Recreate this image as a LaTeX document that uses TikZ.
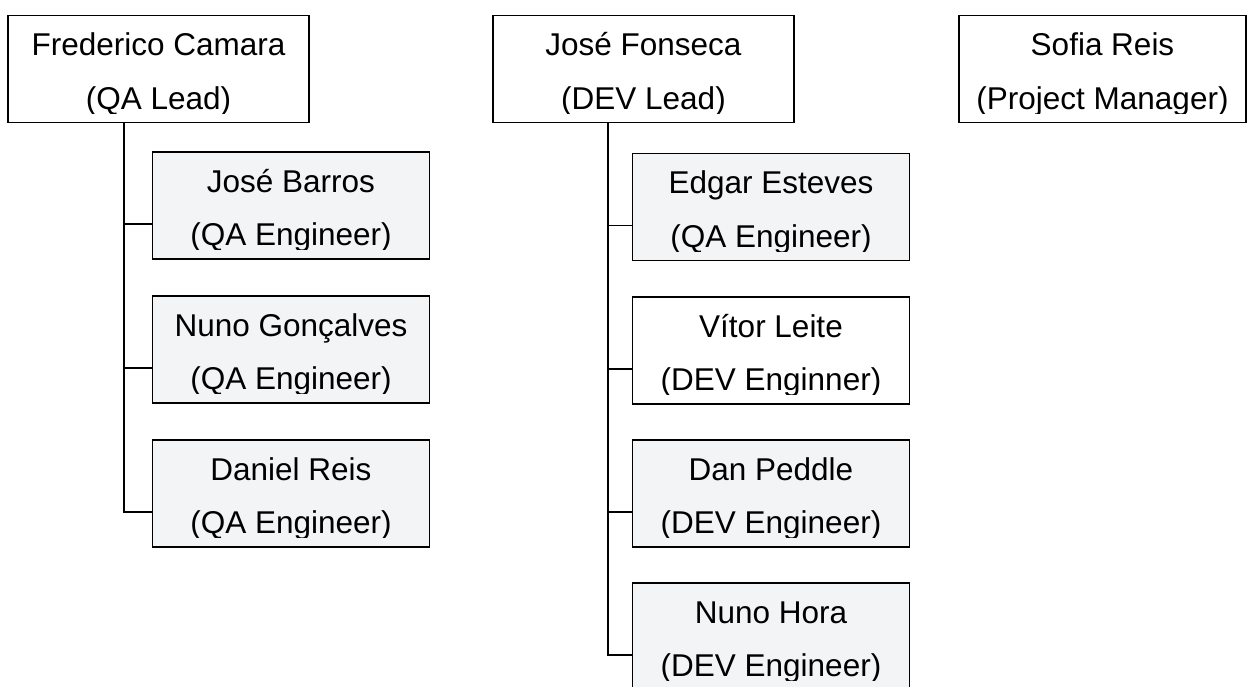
\documentclass[tikz,border=0pt]{standalone}
\usepackage{fontspec}
\setmainfont{Liberation Sans}

\definecolor{staffgray}{RGB}{243,244,246}

\tikzset{
  person/.style={draw, line width=1.7pt, fill=white, minimum width=301pt, minimum height=107pt, inner sep=0pt},
  staff/.style={person, minimum width=277pt, fill=staffgray},
  nametext/.style={anchor=base, inner sep=0pt, font=\fontsize{31.5}{53}\selectfont},
  tie/.style={line width=1.7pt}
}

% two text lines, cut a little above the lower edge
\newcommand{\personlabel}[3]{%
  \begin{scope}
    \clip ([xshift=1pt,yshift=-1pt]#1.north west) rectangle ([xshift=-1pt,yshift=10pt]#1.south east);
    \node[nametext] (#1-a) at ([yshift=-41pt]#1.north) {#2};
    \node[nametext] (#1-b) at ([yshift=-94.5pt]#1.north) {#3};
  \end{scope}}

\begin{document}
\begin{tikzpicture}[x=1pt, y=-1pt]
\useasboundingbox (0,0) rectangle (1247,686);

% leads
\node[person] (camara) at (158.5, 69) {};
\node[person] (fonseca) at (643.5, 69) {};
\node[person, minimum width=287pt] (sofia) at (1102.5, 69) {};

% QA team
\node[staff] (barros) at (291, 205.5) {};
\node[staff] (goncalves) at (291, 349.5) {};
\node[staff] (dreis) at (291, 493.5) {};

% DEV team
\node[staff] (esteves) at (771, 207) {};
\node[staff, fill=white] (leite) at (771, 350.5) {};
\node[staff] (peddle) at (771, 493.5) {};
\node[staff] (hora) at (771, 636.5) {};

\personlabel{camara}{Frederico Camara}{(QA Lead)}
\personlabel{fonseca}{José Fonseca}{(DEV Lead)}
\personlabel{sofia}{Sofia Reis}{(Project Manager)}
\personlabel{barros}{José Barros}{(QA Engineer)}
\personlabel{goncalves}{Nuno Gonçalves}{(QA Engineer)}
\personlabel{dreis}{Daniel Reis}{(QA Engineer)}
\personlabel{esteves}{Edgar Esteves}{(QA Engineer)}
\personlabel{leite}{Vítor Leite}{(DEV Enginner)}
\personlabel{peddle}{Dan Peddle}{(DEV Engineer)}
\personlabel{hora}{Nuno Hora}{(DEV Engineer)}

% tree lines
\coordinate (qatrunk) at ([xshift=117pt]camara.south west);
\coordinate (devtrunk) at ([xshift=116pt]fonseca.south west);
\foreach \n in {barros, goncalves, dreis, esteves, leite, peddle, hora}
  \coordinate (\n-tie) at ([yshift=-18.5pt]\n.west);

\draw[tie] (qatrunk) |- (dreis-tie);
\draw[tie] (devtrunk) |- (hora-tie);
\foreach \n in {barros, goncalves}
  \draw[tie] (\n-tie) -- (qatrunk |- \n-tie);
\foreach \n in {esteves, leite, peddle}
  \draw[tie] (\n-tie) -- (devtrunk |- \n-tie);

\end{tikzpicture}
\end{document}
